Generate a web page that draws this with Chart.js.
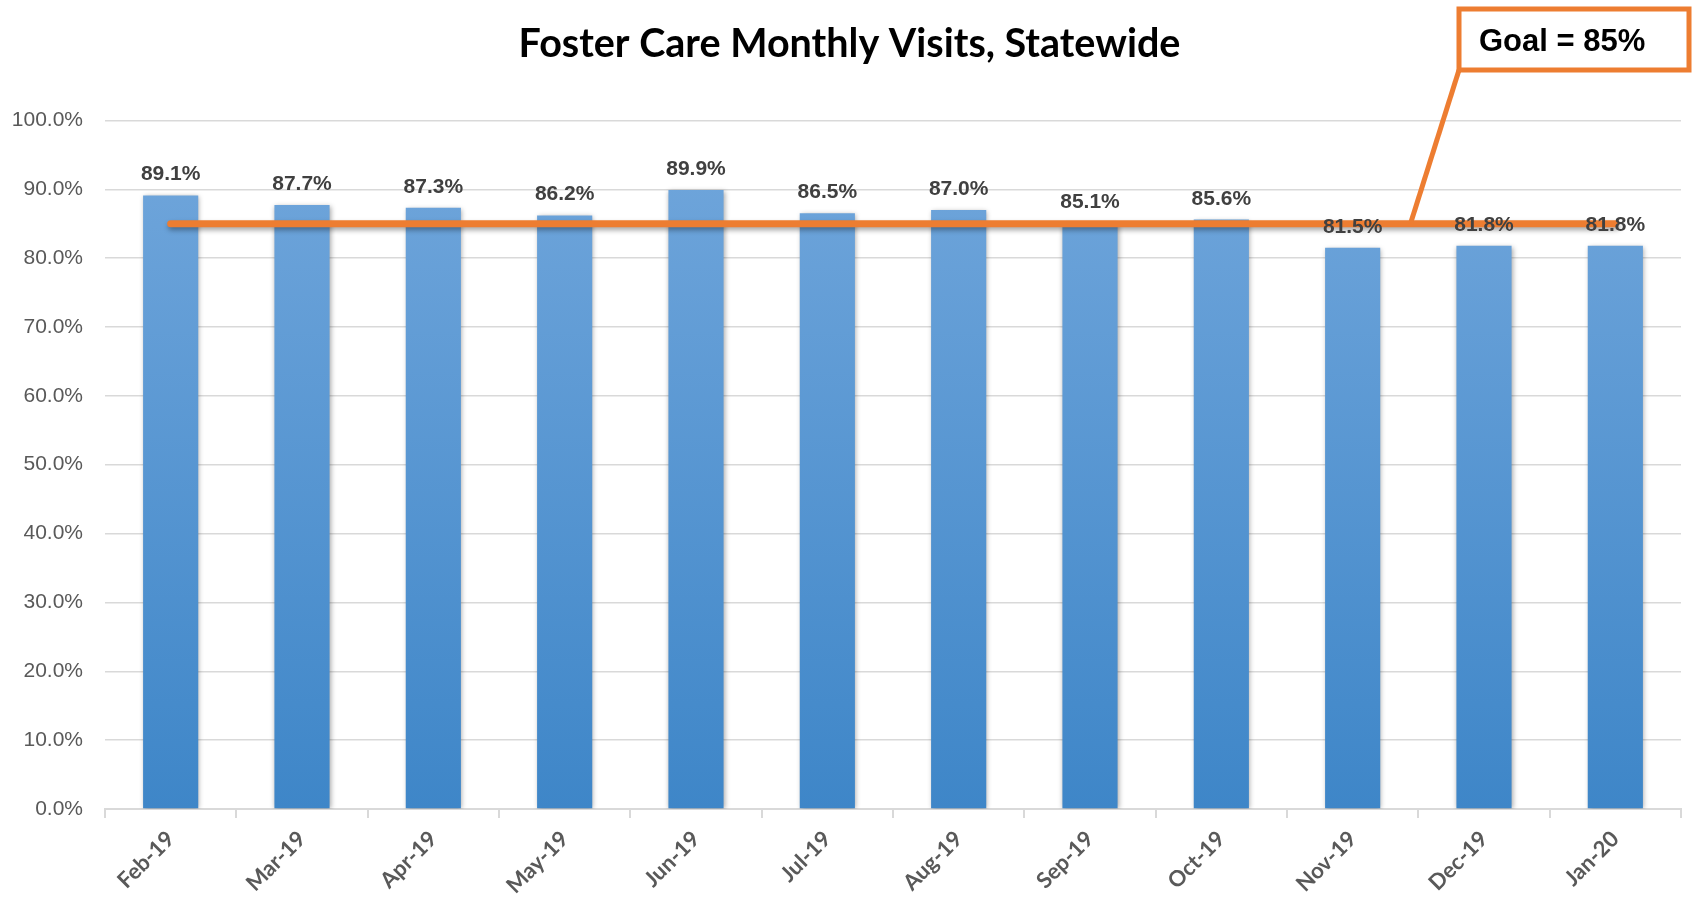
<!DOCTYPE html>
<html>
<head>
<meta charset="utf-8">
<script src="https://cdn.jsdelivr.net/npm/chart.js@4/dist/chart.umd.min.js"></script>
<style>
  body { margin: 0; background: #fff; }
  #wrap { width: 1692px; height: 898px; }
</style>
</head>
<body>
<div id="wrap"><canvas id="visits" width="1692" height="898"></canvas></div>
<script>
var months = ['Feb-19', 'Mar-19', 'Apr-19', 'May-19', 'Jun-19', 'Jul-19', 'Aug-19', 'Sep-19', 'Oct-19', 'Nov-19', 'Dec-19', 'Jan-20'];
var visitRates = [89.1, 87.7, 87.3, 86.2, 89.9, 86.5, 87.0, 85.1, 85.6, 81.5, 81.8, 81.8];
var goalRates = [85, 85, 85, 85, 85, 85, 85, 85, 85, 85, 85, 85];
var goalText = 'Goal = 85%';

function barGradient(context) {
  var chart = context.chart;
  var area = chart.chartArea;
  if (!area) return '#5B9BD5';
  var g = chart.ctx.createLinearGradient(0, area.top, 0, area.bottom);
  g.addColorStop(0, '#72A7DC');
  g.addColorStop(1, '#3E86C8');
  return g;
}

// shadows under bars and goal line
var shadowPlugin = {
  id: 'shadows',
  afterLayout: function(chart) {
    // let the y labels use the left padding strip too
    chart.scales.y.left = 0;
  },
  beforeDatasetDraw: function(chart, args) {
    var ctx = chart.ctx;
    ctx.save();
    ctx.shadowColor = 'rgba(0,0,0,0.35)';
    ctx.shadowBlur = 5;
    ctx.shadowOffsetX = 1;
    ctx.shadowOffsetY = args.index === 0 ? 1 : 3;
  },
  afterDatasetDraw: function(chart) {
    chart.ctx.restore();
  }
};

var labelPlugin = {
  id: 'barLabels',
  afterDatasetsDraw: function(chart) {
    var ctx = chart.ctx;
    var meta = chart.getDatasetMeta(0);
    ctx.save();
    ctx.font = 'bold 21px "Liberation Sans", Arial, sans-serif';
    ctx.fillStyle = '#404040';
    ctx.textAlign = 'center';
    ctx.textBaseline = 'alphabetic';
    meta.data.forEach(function(bar, i) {
      ctx.fillText(visitRates[i].toFixed(1) + '%', bar.x, bar.y - 15);
    });
    ctx.restore();
  }
};

var calloutPlugin = {
  id: 'goalCallout',
  afterDraw: function(chart) {
    var ctx = chart.ctx;
    var x = chart.scales.x, y = chart.scales.y;
    var px = x.getPixelForValue(9.44);
    var py = y.getPixelForValue(85);
    var bx = chart.width - 233, by = 9, bw = 230, bh = 61;
    ctx.save();
    ctx.strokeStyle = '#ED7D31';
    ctx.lineWidth = 5;
    ctx.beginPath();
    ctx.moveTo(px, py);
    ctx.lineTo(bx, by + bh);
    ctx.stroke();
    ctx.fillStyle = '#fff';
    ctx.fillRect(bx, by, bw, bh);
    ctx.strokeRect(bx, by, bw, bh);
    ctx.fillStyle = '#000';
    ctx.font = 'bold 31px "Liberation Sans", Arial, sans-serif';
    ctx.textAlign = 'left';
    ctx.textBaseline = 'alphabetic';
    ctx.fillText(goalText, bx + 20, by + 42);
    ctx.restore();
  }
};

var chart = new Chart(document.getElementById('visits'), {
  type: 'bar',
  data: {
    labels: months,
    datasets: [
      {
        label: 'Monthly Visits',
        data: visitRates,
        backgroundColor: barGradient,
        categoryPercentage: 0.42,
        barPercentage: 1.0,
        order: 1
      },
      {
        type: 'line',
        label: 'Goal',
        data: goalRates,
        borderColor: '#ED7D31',
        borderWidth: 7,
        borderCapStyle: 'round',
        pointRadius: 0,
        fill: false,
        order: 0
      }
    ]
  },
  options: {
    responsive: false,
    animation: false,
    layout: { padding: { left: 18, right: 11, top: 0, bottom: 0 } },
    plugins: {
      legend: { display: false },
      tooltip: { enabled: false },
      title: {
        display: true,
        text: 'Foster Care Monthly Visits, Statewide',
        color: '#000',
        font: { family: 'Lato', size: 39.5, weight: 'bold', lineHeight: 1.2 },
        padding: { top: 21, bottom: 52 }
      }
    },
    scales: {
      x: {
        offset: true,
        grid: { offset: true, drawOnChartArea: false, color: '#D9D9D9', lineWidth: 2, tickLength: 9 },
        border: { color: '#D9D9D9', width: 2 },
        ticks: {
          color: '#595959',
          font: { family: 'Lato', size: 22, weight: 'bold' },
          maxRotation: 45,
          minRotation: 45,
          padding: 8
        },
        afterFit: function(scale) { scale.height = 89; }
      },
      y: {
        min: 0,
        max: 100,
        grid: { color: '#D9D9D9', lineWidth: 1.5, drawTicks: false },
        border: { display: false },
        ticks: {
          stepSize: 10,
          color: '#595959',
          padding: 22,
          font: { family: '"Liberation Sans", Arial, sans-serif', size: 21 },
          callback: function(v) { return v.toFixed(1) + '%'; }
        },
        afterFit: function(scale) { scale.width = 87; }
      }
    }
  },
  plugins: [shadowPlugin, labelPlugin, calloutPlugin]
});
</script>
</body>
</html>
